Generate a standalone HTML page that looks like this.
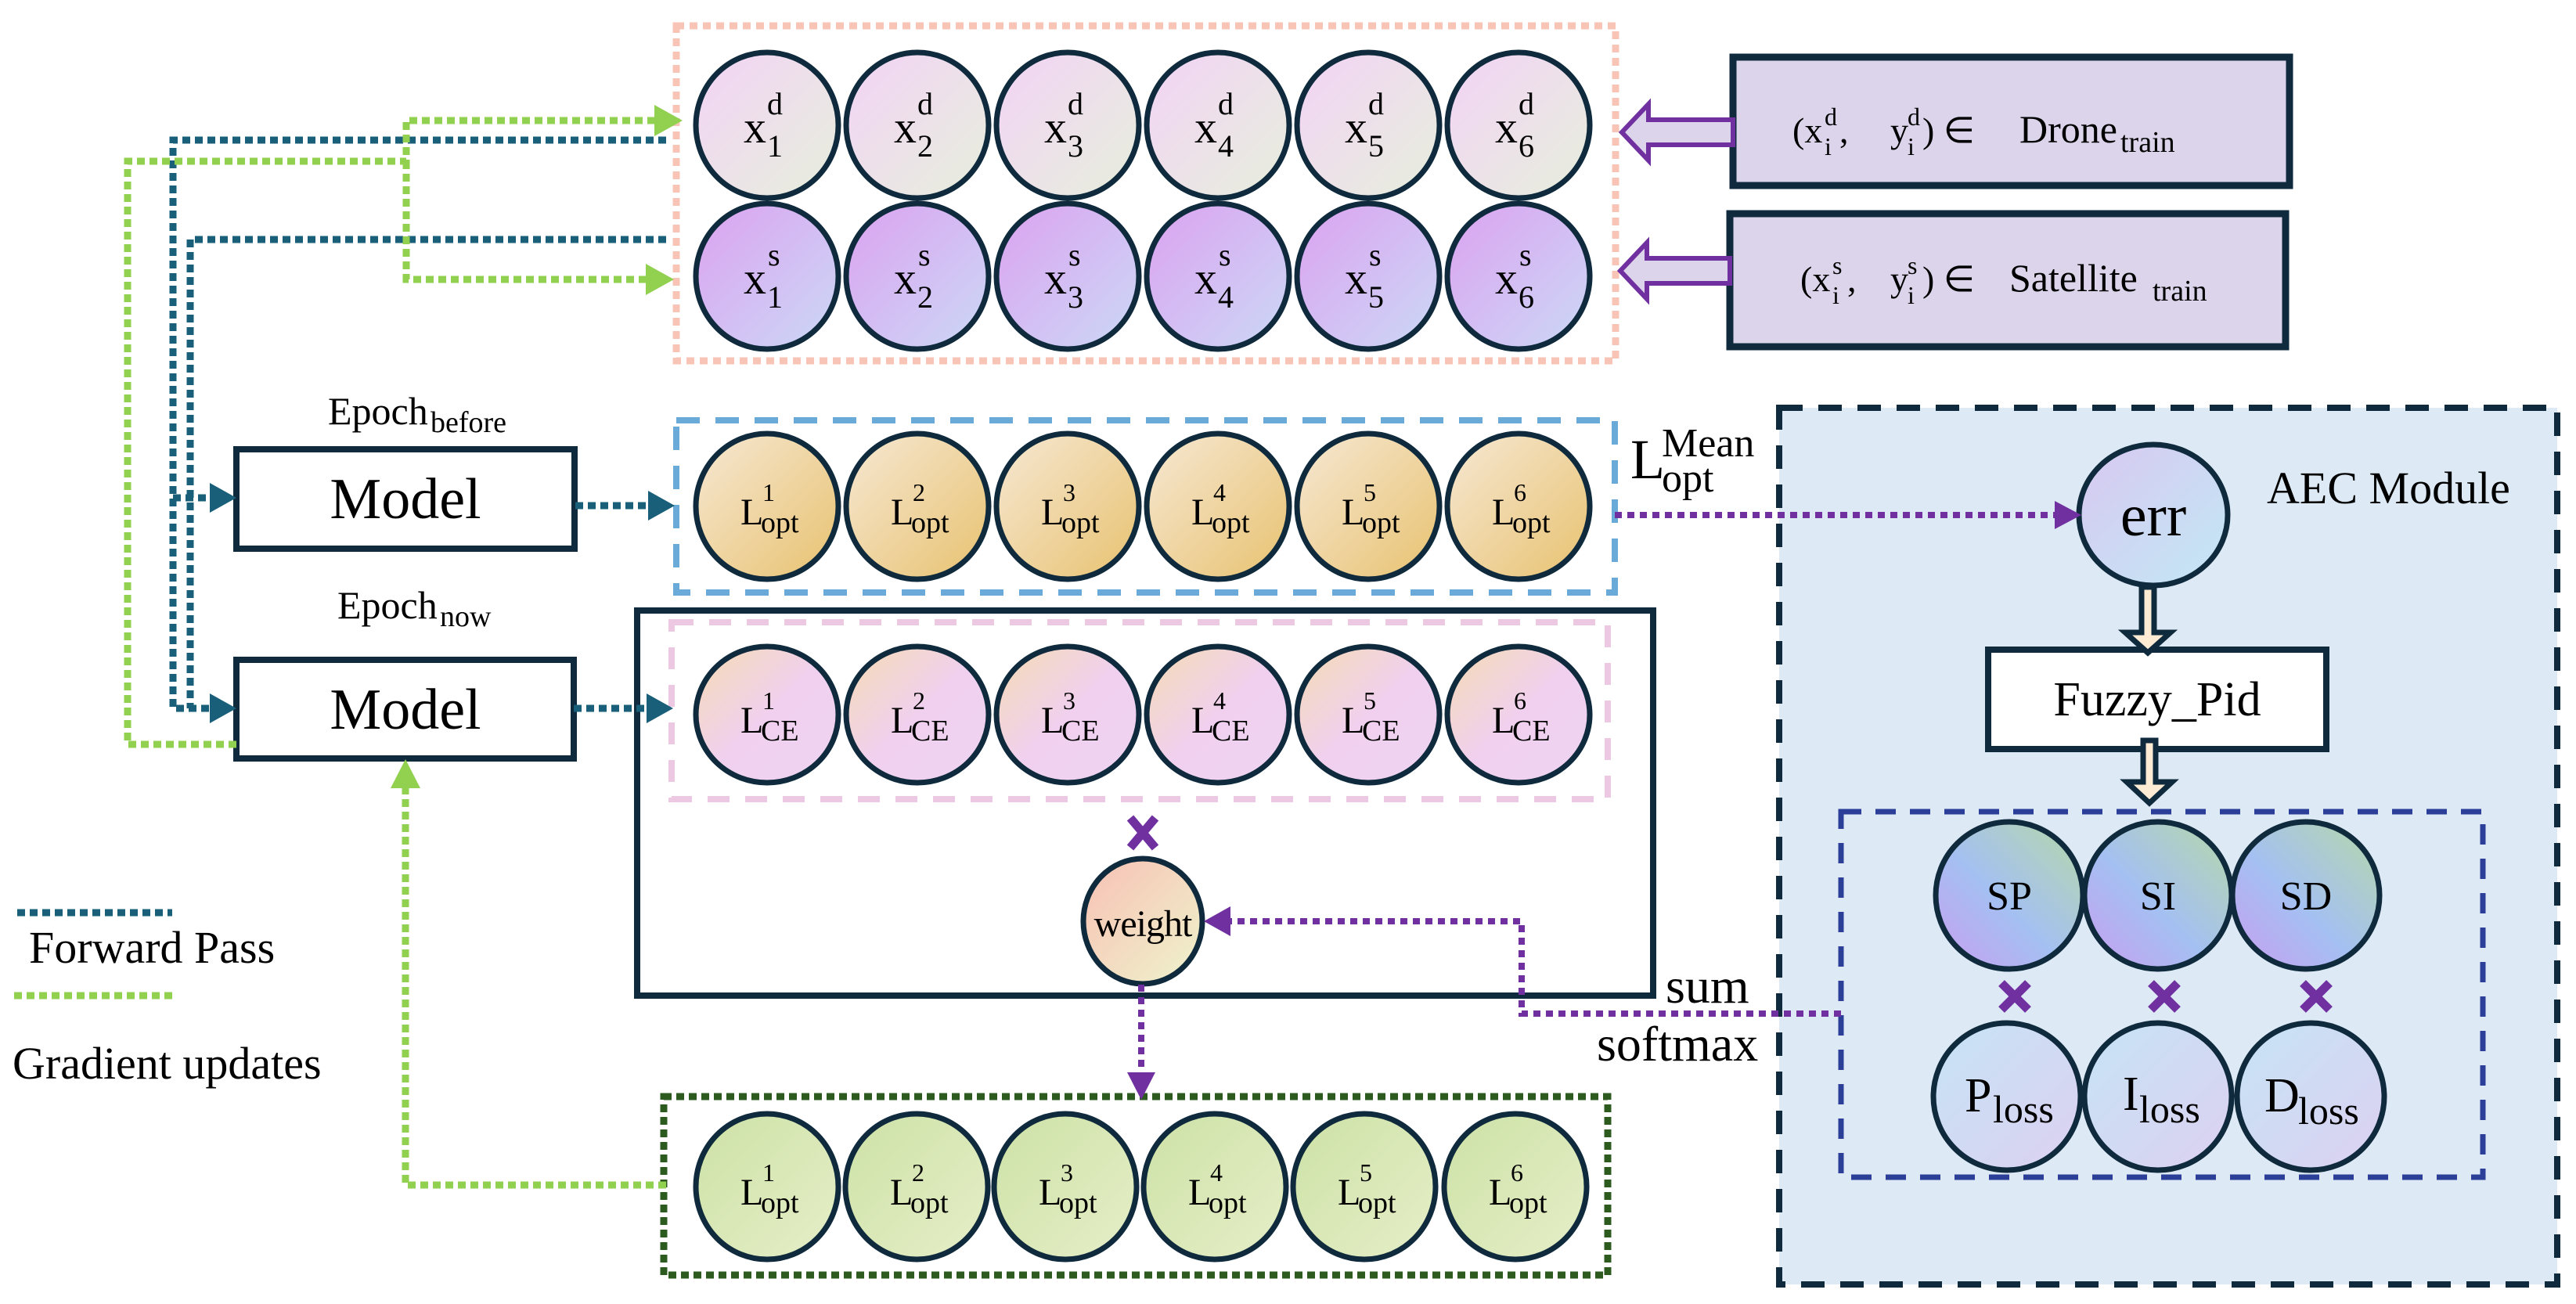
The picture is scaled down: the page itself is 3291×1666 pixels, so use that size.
<!DOCTYPE html>
<html><head><meta charset="utf-8"><style>html,body{margin:0;padding:0;background:#fff}svg{display:block}svg text{font-family:"Liberation Serif",serif}</style></head><body>
<svg width="3291" height="1666" viewBox="0 0 3291 1666" xmlns="http://www.w3.org/2000/svg">
<defs>
<linearGradient id="gD" x1="0" y1="0" x2="1" y2="1"><stop offset="0" stop-color="#f3d3f6"/><stop offset="1" stop-color="#e6efdc"/></linearGradient>
<linearGradient id="gS" x1="0" y1="0" x2="1" y2="1"><stop offset="0" stop-color="#dca2f0"/><stop offset="1" stop-color="#cbd9f6"/></linearGradient>
<linearGradient id="gO" x1="0" y1="0" x2="1" y2="1"><stop offset="0" stop-color="#f6e8d4"/><stop offset="1" stop-color="#e8c270"/></linearGradient>
<linearGradient id="gC" x1="0" y1="0" x2="1" y2="1"><stop offset="0" stop-color="#f5dcb4"/><stop offset="0.5" stop-color="#f0d0ee"/><stop offset="1" stop-color="#eed4f2"/></linearGradient>
<linearGradient id="gG" x1="0" y1="0" x2="1" y2="1"><stop offset="0" stop-color="#cde2a6"/><stop offset="1" stop-color="#e6eec8"/></linearGradient>
<linearGradient id="gP" x1="0" y1="1" x2="1" y2="0"><stop offset="0" stop-color="#c89ef0"/><stop offset="0.45" stop-color="#a4c0f2"/><stop offset="1" stop-color="#b6d8a8"/></linearGradient>
<linearGradient id="gL" x1="0" y1="0" x2="1" y2="1"><stop offset="0" stop-color="#c6e4f4"/><stop offset="1" stop-color="#dcd0f2"/></linearGradient>
<linearGradient id="gE" x1="0" y1="0" x2="1" y2="1"><stop offset="0" stop-color="#d8c8f2"/><stop offset="1" stop-color="#c2e8f4"/></linearGradient>
<linearGradient id="gW" x1="0" y1="0" x2="1" y2="1"><stop offset="0" stop-color="#f8c0b4"/><stop offset="1" stop-color="#eef4cc"/></linearGradient>
</defs>

<rect x="2273" y="521" width="994" height="1120" fill="#dde9f5" stroke="#0f2a3c" stroke-width="8" stroke-dasharray="30 20"/>

<rect x="864" y="33" width="1200" height="428" fill="none" stroke="#f8c4b6" stroke-width="9" stroke-dasharray="10 7"/>
<rect x="864" y="537" width="1199" height="220" fill="none" stroke="#6aaad8" stroke-width="8" stroke-dasharray="30 20"/>
<rect x="814" y="780" width="1298" height="492" fill="none" stroke="#0f2a3c" stroke-width="8"/>
<rect x="858" y="795" width="1196" height="226" fill="none" stroke="#ecc8e2" stroke-width="8" stroke-dasharray="28 20"/>
<rect x="848" y="1401" width="1206" height="228" fill="none" stroke="#2d5a1e" stroke-width="9" stroke-dasharray="10 6"/>
<rect x="2352" y="1037" width="820" height="467" fill="none" stroke="#2b3f99" stroke-width="7" stroke-dasharray="26 18"/>

<g stroke="#0f2a3c" stroke-width="7">
<g fill="url(#gD)">
<ellipse cx="980" cy="160" rx="91" ry="93"/><ellipse cx="1172" cy="160" rx="91" ry="93"/><ellipse cx="1364" cy="160" rx="91" ry="93"/><ellipse cx="1556" cy="160" rx="91" ry="93"/><ellipse cx="1748" cy="160" rx="91" ry="93"/><ellipse cx="1940" cy="160" rx="91" ry="93"/>
</g>
<g fill="url(#gS)">
<ellipse cx="980" cy="353" rx="91" ry="93"/><ellipse cx="1172" cy="353" rx="91" ry="93"/><ellipse cx="1364" cy="353" rx="91" ry="93"/><ellipse cx="1556" cy="353" rx="91" ry="93"/><ellipse cx="1748" cy="353" rx="91" ry="93"/><ellipse cx="1940" cy="353" rx="91" ry="93"/>
</g>
<g fill="url(#gO)">
<ellipse cx="980" cy="647" rx="91" ry="93"/><ellipse cx="1172" cy="647" rx="91" ry="93"/><ellipse cx="1364" cy="647" rx="91" ry="93"/><ellipse cx="1556" cy="647" rx="91" ry="93"/><ellipse cx="1748" cy="647" rx="91" ry="93"/><ellipse cx="1940" cy="647" rx="91" ry="93"/>
</g>
<g fill="url(#gC)">
<ellipse cx="980" cy="913" rx="91" ry="87"/><ellipse cx="1172" cy="913" rx="91" ry="87"/><ellipse cx="1364" cy="913" rx="91" ry="87"/><ellipse cx="1556" cy="913" rx="91" ry="87"/><ellipse cx="1748" cy="913" rx="91" ry="87"/><ellipse cx="1940" cy="913" rx="91" ry="87"/>
</g>
<g fill="url(#gG)">
<ellipse cx="980" cy="1516" rx="91" ry="93"/><ellipse cx="1171" cy="1516" rx="91" ry="93"/><ellipse cx="1361" cy="1516" rx="91" ry="93"/><ellipse cx="1552" cy="1516" rx="91" ry="93"/><ellipse cx="1743" cy="1516" rx="91" ry="93"/><ellipse cx="1936" cy="1516" rx="91" ry="93"/>
</g>
<ellipse cx="1460" cy="1177" rx="76" ry="80" fill="url(#gW)"/>
<ellipse cx="2751" cy="658" rx="95" ry="90" fill="url(#gE)"/>
<g fill="url(#gP)"><ellipse cx="2567" cy="1144" rx="94" ry="94"/><ellipse cx="2757" cy="1144" rx="94" ry="94"/><ellipse cx="2946" cy="1144" rx="94" ry="94"/></g>
<g fill="url(#gL)"><ellipse cx="2564" cy="1401" rx="94" ry="94"/><ellipse cx="2757" cy="1401" rx="94" ry="94"/><ellipse cx="2952" cy="1401" rx="94" ry="94"/></g>
</g>

<g fill="#000">
<g font-size="58">
<text x="950" y="182">x</text><text x="1142" y="182">x</text><text x="1334" y="182">x</text><text x="1526" y="182">x</text><text x="1718" y="182">x</text><text x="1910" y="182">x</text>
<text x="950" y="375">x</text><text x="1142" y="375">x</text><text x="1334" y="375">x</text><text x="1526" y="375">x</text><text x="1718" y="375">x</text><text x="1910" y="375">x</text>
</g>
<g font-size="40">
<text x="980" y="146">d</text><text x="1172" y="146">d</text><text x="1364" y="146">d</text><text x="1556" y="146">d</text><text x="1748" y="146">d</text><text x="1940" y="146">d</text>
<text x="980" y="200">1</text><text x="1172" y="200">2</text><text x="1364" y="200">3</text><text x="1556" y="200">4</text><text x="1748" y="200">5</text><text x="1940" y="200">6</text>
<text x="981" y="339">s</text><text x="1173" y="339">s</text><text x="1365" y="339">s</text><text x="1557" y="339">s</text><text x="1749" y="339">s</text><text x="1941" y="339">s</text>
<text x="980" y="393">1</text><text x="1172" y="393">2</text><text x="1364" y="393">3</text><text x="1556" y="393">4</text><text x="1748" y="393">5</text><text x="1940" y="393">6</text>
</g>
<g font-size="48">
<text x="946" y="670">L</text><text x="1138" y="670">L</text><text x="1330" y="670">L</text><text x="1522" y="670">L</text><text x="1714" y="670">L</text><text x="1906" y="670">L</text>
<text x="946" y="936">L</text><text x="1138" y="936">L</text><text x="1330" y="936">L</text><text x="1522" y="936">L</text><text x="1714" y="936">L</text><text x="1906" y="936">L</text>
<text x="946" y="1539">L</text><text x="1137" y="1539">L</text><text x="1327" y="1539">L</text><text x="1518" y="1539">L</text><text x="1709" y="1539">L</text><text x="1902" y="1539">L</text>
</g>
<g font-size="32">
<text x="974" y="640">1</text><text x="1166" y="640">2</text><text x="1358" y="640">3</text><text x="1550" y="640">4</text><text x="1742" y="640">5</text><text x="1934" y="640">6</text>
<text x="974" y="906">1</text><text x="1166" y="906">2</text><text x="1358" y="906">3</text><text x="1550" y="906">4</text><text x="1742" y="906">5</text><text x="1934" y="906">6</text>
<text x="974" y="1509">1</text><text x="1165" y="1509">2</text><text x="1355" y="1509">3</text><text x="1546" y="1509">4</text><text x="1737" y="1509">5</text><text x="1930" y="1509">6</text>
</g>
<g font-size="38">
<text x="972" y="680">opt</text><text x="1164" y="680">opt</text><text x="1356" y="680">opt</text><text x="1548" y="680">opt</text><text x="1740" y="680">opt</text><text x="1932" y="680">opt</text>
<text x="972" y="946">CE</text><text x="1164" y="946">CE</text><text x="1356" y="946">CE</text><text x="1548" y="946">CE</text><text x="1740" y="946">CE</text><text x="1932" y="946">CE</text>
<text x="972" y="1549">opt</text><text x="1163" y="1549">opt</text><text x="1353" y="1549">opt</text><text x="1544" y="1549">opt</text><text x="1735" y="1549">opt</text><text x="1928" y="1549">opt</text>
</g>
<text x="1460" y="1196" font-size="48" text-anchor="middle" letter-spacing="-1">weight</text>
<text x="2751" y="684" font-size="76" text-anchor="middle">err</text>
<g font-size="52" text-anchor="middle"><text x="2567" y="1162">SP</text><text x="2757" y="1162">SI</text><text x="2946" y="1162">SD</text></g>
<g font-size="62"><text x="2510" y="1420">P</text><text x="2712" y="1418">I</text><text x="2893" y="1420">D</text></g>
<g font-size="50"><text x="2546" y="1434">loss</text><text x="2733" y="1434">loss</text><text x="2936" y="1436">loss</text></g>
</g>

<rect x="2214" y="73" width="711" height="164" fill="#dcd4ea" stroke="#0f2a3c" stroke-width="9"/>
<rect x="2210" y="273" width="710" height="170" fill="#dcd4ea" stroke="#0f2a3c" stroke-width="9"/>
<g fill="#000">
<text x="2290" y="182" font-size="46">(x</text><text x="2331" y="160" font-size="32">d</text><text x="2331" y="198" font-size="32">i</text><text x="2350" y="182" font-size="46">,</text>
<text x="2415" y="182" font-size="46">y</text><text x="2437" y="160" font-size="32">d</text><text x="2437" y="198" font-size="32">i</text><text x="2456" y="182" font-size="46">) ∈</text>
<text x="2580" y="182" font-size="50">Drone</text><text x="2709" y="194" font-size="38">train</text>
<text x="2300" y="372" font-size="46">(x</text><text x="2341" y="350" font-size="32">s</text><text x="2341" y="388" font-size="32">i</text><text x="2360" y="372" font-size="46">,</text>
<text x="2415" y="372" font-size="46">y</text><text x="2437" y="350" font-size="32">s</text><text x="2437" y="388" font-size="32">i</text><text x="2456" y="372" font-size="46">) ∈</text>
<text x="2567" y="372" font-size="50">Satellite</text><text x="2750" y="384" font-size="38">train</text>
</g>
<g fill="#dcd4ea" stroke="#7030a0" stroke-width="6">
<polygon points="2214,153 2106,153 2106,133 2072,169 2106,205 2106,185 2214,185"/>
<polygon points="2210,330 2104,330 2104,310 2070,346 2104,382 2104,362 2210,362"/>
</g>

<rect x="302" y="574" width="432" height="127" fill="#fff" stroke="#0f2a3c" stroke-width="8"/>
<rect x="302" y="843" width="431" height="126" fill="#fff" stroke="#0f2a3c" stroke-width="8"/>
<text x="518" y="662" font-size="74" text-anchor="middle">Model</text>
<text x="518" y="931" font-size="74" text-anchor="middle">Model</text>
<text x="419" y="542" font-size="50">Epoch</text><text x="550" y="552" font-size="38">before</text>
<text x="431" y="790" font-size="50">Epoch</text><text x="562" y="800" font-size="38">now</text>

<text x="2083" y="611" font-size="72">L</text>
<text x="2123" y="583" font-size="52">Mean</text>
<text x="2123" y="628" font-size="52">opt</text>

<text x="2896" y="643" font-size="58">AEC Module</text>
<rect x="2540" y="830" width="432" height="127" fill="#fff" stroke="#0f2a3c" stroke-width="8"/>
<text x="2756" y="914" font-size="62" text-anchor="middle">Fuzzy_Pid</text>
<g fill="#fdebd3" stroke="#0f2a3c" stroke-width="7">
<polygon points="2736,750 2752,750 2752,808 2773,808 2744,834 2715,808 2736,808"/>
<polygon points="2738,946 2754,946 2754,999 2775,999 2746,1026 2717,999 2738,999"/>
</g>

<g stroke="#7030a0" stroke-width="11" stroke-linecap="butt">
<path d="M1444,1045 L1476,1083 M1476,1045 L1444,1083"/>
<path d="M2557,1256 L2591,1290 M2591,1256 L2557,1290"/>
<path d="M2748,1256 L2782,1290 M2782,1256 L2748,1290"/>
<path d="M2942,1256 L2976,1290 M2976,1256 L2942,1290"/>
</g>

<g fill="none" stroke="#7030a0" stroke-width="8" stroke-dasharray="9 7">
<path d="M2063,658 L2630,658"/>
<path d="M2352,1295 L1944,1295 L1944,1177 L1570,1177"/>
<path d="M1458,1258 L1458,1370"/>
</g>
<g fill="#7030a0">
<polygon points="2659,658 2625,640 2625,676"/>
<polygon points="1538,1177 1572,1158 1572,1196"/>
<polygon points="1458,1405 1440,1370 1476,1370"/>
</g>
<text x="2128" y="1281" font-size="64">sum</text>
<text x="2040" y="1355" font-size="64">softmax</text>

<g fill="none" stroke="#1a5f7a" stroke-width="9" stroke-dasharray="10 6">
<path d="M851,179 L221,179 L221,905 L270,905"/>
<path d="M851,306 L243,306 L243,905"/>
<path d="M221,636 L270,636"/>
<path d="M735,646 L830,646"/>
<path d="M733,905 L828,905"/>
</g>
<g fill="#1a5f7a">
<polygon points="302,636 268,617 268,655"/>
<polygon points="302,905 268,886 268,924"/>
<polygon points="862,646 828,627 828,665"/>
<polygon points="860,905 826,886 826,924"/>
</g>

<g fill="none" stroke="#92d050" stroke-width="9" stroke-dasharray="10 6">
<path d="M302,951 L163,951 L163,206 L519,206 L519,154 L838,154"/>
<path d="M519,206 L519,357 L828,357"/>
<path d="M851,1514 L518,1514 L518,1005"/>
</g>
<g fill="#92d050">
<polygon points="872,154 836,134 836,174"/>
<polygon points="861,357 825,337 825,377"/>
<polygon points="518,970 499,1007 537,1007"/>
</g>

<line x1="22" y1="1166" x2="220" y2="1166" stroke="#1a5f7a" stroke-width="9" stroke-dasharray="10 6"/>
<text x="37" y="1230" font-size="58">Forward Pass</text>
<line x1="18" y1="1272" x2="222" y2="1272" stroke="#92d050" stroke-width="9" stroke-dasharray="10 6"/>
<text x="16" y="1378" font-size="58">Gradient updates</text>
</svg>
</body></html>
